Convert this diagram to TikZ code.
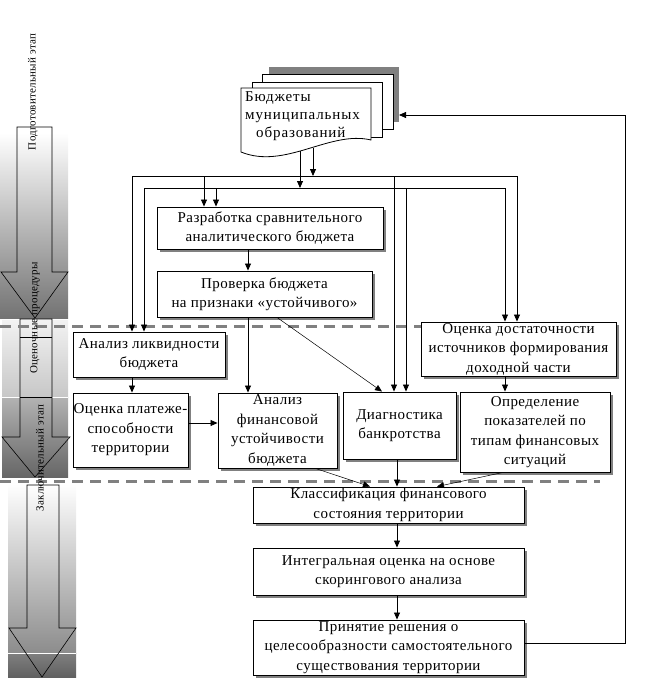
\documentclass[tikz,border=0pt]{standalone}
\usepackage{fontspec}
\setmainfont{Liberation Serif}
\newfontfamily\boxfont[LetterSpace=3]{Liberation Serif}
\newfontfamily\docfont[LetterSpace=6]{Liberation Serif}
\newfontfamily\labfont[LetterSpace=2]{Liberation Serif}
\usetikzlibrary{arrows.meta,shadows}
\begin{document}
\begin{tikzpicture}[x=1pt,y=-1pt,
 box/.style={draw,fill=white,line width=0.9pt,inner sep=0pt,align=center,
   font=\boxfont\fontsize{15}{19.5}\selectfont,
   drop shadow={shadow xshift=3pt,shadow yshift=-3pt,fill=black!50,opacity=1}},
 arr/.style={-{Triangle[length=7pt,width=6pt]},line width=0.8pt},
 thinarr/.style={-{Triangle[length=7pt,width=6pt]},line width=0.5pt},
 stagedash/.style={draw=black!50,line width=3pt,dash pattern=on 11pt off 7pt},
 stagearrow/.style={draw,line width=0.6pt},
 stagelabel/.style={rotate=90,font=\labfont\fontsize{11}{12}\selectfont,inner sep=0pt},
 doclayer/.style={draw,fill=white,line width=0.8pt}]
\useasboundingbox (0,0) rectangle (661,680);

% ---- stage backgrounds ----
\shade[top color=white,bottom color=black!55] (0,133) rectangle (68,318);
\shade[top color=black!5,bottom color=black!22] (2,320) rectangle (68,397);
\shade[top color=black!30,bottom color=black!60] (2,397) rectangle (68,477);
\shade[top color=white,bottom color=black!45] (8,484) rectangle (76,653);
\shade[top color=black!50,bottom color=black!62] (8,653) rectangle (76,677);
\draw[white,line width=1pt] (2,397) -- (68,397);
\draw[white,line width=1pt] (8,653) -- (76,653);

% ---- stage arrows ----
\draw[stagearrow] (17,127) -- (52,127) -- (52,272) -- (68,272) -- (35,318) -- (1,272) -- (17,272) -- cycle;
\draw[stagearrow] (20,319) -- (52,319) -- (52,437) -- (70,437) -- (35,477) -- (2,437) -- (20,437) -- cycle;
\draw[stagearrow] (20,337) -- (52,337);
\draw[stagearrow] (20,397) -- (52,397);
\draw[stagearrow] (27,485) -- (59,485) -- (59,628) -- (76,628) -- (42,677) -- (9,628) -- (27,628) -- cycle;

% ---- dashed stage borders ----
\coordinate (d1s) at (0,326);
\coordinate (d2s) at (0,481);
\coordinate (d2e) at (600,481);

% ---- documents ----
\fill[black!50] (269,67) rectangle (399,122);
\draw[doclayer] (262,74) rectangle (393,129);
\draw[doclayer] (252,82) rectangle (382,137);
\draw[doclayer] (241,88) -- (371,88) -- (371,140) .. controls (330,130) and (285,170) .. (241,152) -- cycle;
\node[anchor=north west,align=left,inner sep=0pt,font=\docfont\fontsize{15}{18}\selectfont] (doc) at (245,91)
  {Бюджеты\\муниципальных\\\hspace*{11pt}образований};

% ---- boxes ----
\node[box,minimum width=226pt,minimum height=42pt] (razr) at (270,228) {Разработка сравнительного\\аналитического бюджета};
\node[box,minimum width=215pt,minimum height=46pt] (prov) at (264.5,294) {Проверка бюджета\\на признаки «устойчивого»};
\node[box,minimum width=195pt,minimum height=54pt] (dost) at (518.5,349) {Оценка достаточности\\источников формирования\\доходной части};

\draw[stagedash] (d1s) -- (dost.west |- d1s);
\draw[stagedash] (d2s) -- (d2e);

\node[box,minimum width=152pt,minimum height=45pt] (likv) at (149,354.5) {Анализ ликвидности\\бюджета};
\node[box,minimum width=115pt,minimum height=74pt] (plat) at (130.5,430) {Оценка платеже-\\способности\\территории};
\node[box,minimum width=119pt,minimum height=75pt] (fin) at (277.5,430.5) {Анализ\\финансовой\\устойчивости\\бюджета};
\node[box,minimum width=113pt,minimum height=67pt] (diag) at (399.5,425.5) {Диагностика\\банкротства};
\node[box,minimum width=150pt,minimum height=80pt] (opr) at (535,432) {Определение\\показателей по\\типам финансовых\\ситуаций};
\node[box,minimum width=271pt,minimum height=36pt] (klass) at (388.5,505) {Классификация финансового\\состояния территории};
\node[box,minimum width=271pt,minimum height=47pt] (integ) at (388.5,571.5) {Интегральная оценка на основе\\скорингового анализа};
\node[box,minimum width=271pt,minimum height=55pt] (prin) at (388.5,647.5) {Принятие решения о\\целесообразности самостоятельного\\существования территории};

% ---- stage labels ----
\node[stagelabel] (st1) at (33,92) {Подготовительный этап};
\node[stagelabel] (st2) at (35,318) {Оценочные процедуры};
\node[stagelabel] (st3) at (40,458) {Заключительный этап};

% ---- bus lines ----
\coordinate (o1) at (132,176);
\coordinate (o2) at (517,176);
\coordinate (i1) at (144,188);
\coordinate (i2) at (505,188);
\coordinate (oR) at (204,176);
\coordinate (iR) at (216,188);
\coordinate (oD) at (394,176);
\coordinate (iD) at (406,188);
\coordinate (docA) at (300,151);
\coordinate (docB) at (313,148);
\draw[line width=0.8pt] (o1) -- (o2);
\draw[line width=0.8pt] (i1) -- (i2);
\draw[arr] (docA) -- (docA |- i1);
\draw[arr] (docB) -- (docB |- o1);
\draw[arr] (o1) -- (o1 |- likv.north);
\draw[arr] (i1) -- (i1 |- likv.north);
\draw[arr] (oR) -- (oR |- razr.north);
\draw[arr] (iR) -- (iR |- razr.north);
\draw[arr] (oD) -- (oD |- diag.north);
\draw[arr] (iD) -- (iD |- diag.north);
\draw[arr] (o2) -- (o2 |- dost.north);
\draw[arr] (i2) -- (i2 |- dost.north);

% ---- flow arrows ----
\coordinate (c248) at (248,0);
\draw[arr] (razr.south -| c248) -- (prov.north -| c248);
\draw[arr] (prov.south -| c248) -- (fin.north -| c248);
\draw[thinarr] ([xshift=12.5pt]prov.south) -- ([xshift=-17.5pt]diag.north);
\draw[arr] (likv.south -| o1) -- (plat.north -| o1);
\draw[arr] ([yshift=7pt]plat.east) -- ([yshift=7pt]plat.east -| fin.west);
\draw[arr] (dost.south -| i2) -- (opr.north -| i2);
\draw[thinarr] ([xshift=38pt]fin.south) -- ([xshift=-18.5pt]klass.north);
\coordinate (c397) at (397,0);
\draw[arr] (diag.south -| c397) -- (klass.north -| c397);
\draw[thinarr] ([xshift=-32pt]opr.south) -- ([xshift=48.5pt]klass.north);
\draw[arr] (klass.south -| c397) -- (integ.north -| c397);
\draw[arr] (integ.south -| c397) -- (prin.north -| c397);

% ---- feedback ----
\coordinate (fbc) at (625,115);
\coordinate (docin) at (399,115);
\draw[arr] ([yshift=4.5pt]prin.east) -| (fbc) -- (docin);
\end{tikzpicture}
\end{document}
